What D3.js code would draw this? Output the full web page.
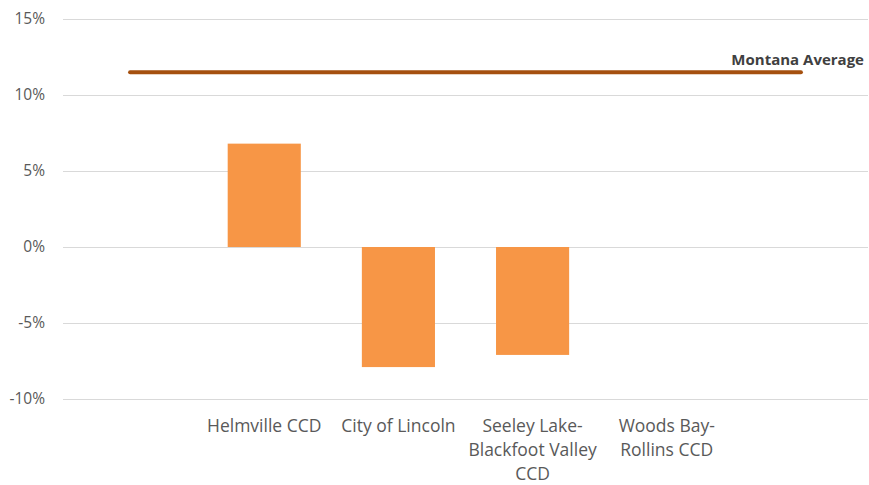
<!DOCTYPE html>
<html>
<head>
<meta charset="utf-8">
<script src="https://cdn.jsdelivr.net/npm/d3@7"></script>
<style>
  html, body { margin: 0; padding: 0; background: #fff; }
  text { font-family: "Open Sans", "Liberation Sans", sans-serif; }
</style>
</head>
<body>
<div id="chart"></div>
<script>
// Chart data
const categories = ["", "Helmville CCD", "City of Lincoln", "Seeley Lake-\nBlackfoot Valley\nCCD", "Woods Bay-\nRollins CCD", ""];
const changeValues = [null, 0.068, -0.079, -0.071, 0, null];
const montanaAverage = [0.115, 0.115, 0.115, 0.115, 0.115, 0.115];
const yTicks = [-0.10, -0.05, 0, 0.05, 0.10, 0.15];

const width = 869;
const height = 485;
const margin = { top: 19, right: 1, bottom: 86, left: 63 };

const svg = d3.select('#chart')
    .append('svg')
    .attr('width', width)
    .attr('height', height);

const x = d3.scaleBand()
    .domain(d3.range(categories.length))
    .range([margin.left, width - margin.right])
    .paddingInner(0.455)
    .paddingOuter(0.2275);

const y = d3.scaleLinear()
    .domain([-0.10, 0.15])
    .range([height - margin.bottom, margin.top]);

// Gridlines
svg.append('g')
    .selectAll('line')
    .data(yTicks)
    .join('line')
    .attr('x1', margin.left)
    .attr('x2', width - margin.right)
    .attr('y1', d => Math.round(y(d)) + 0.5)
    .attr('y2', d => Math.round(y(d)) + 0.5)
    .attr('stroke', '#d9d9d9')
    .attr('stroke-width', 1);

// Y axis labels (plain hyphen for negatives, like Excel)
const pct = d3.format('.0%');
const yAxis = d3.axisLeft(y)
    .tickValues(yTicks)
    .tickFormat(d => pct(d).replace('\u2212', '-'))
    .tickSize(0)
    .tickPadding(18);

svg.append('g')
    .attr('transform', `translate(${margin.left},0)`)
    .call(yAxis)
    .call(g => g.select('.domain').remove())
    .call(g => g.selectAll('text')
        .attr('fill', '#595959')
        .style('font-size', '15.5px'));

// Bars
svg.append('g')
    .selectAll('rect')
    .data(changeValues.map((v, i) => ({ v, i })).filter(d => d.v !== null))
    .join('rect')
    .attr('x', d => x(d.i))
    .attr('width', x.bandwidth())
    .attr('y', d => y(Math.max(0, d.v)))
    .attr('height', d => Math.abs(y(d.v) - y(0)))
    .attr('fill', '#f79646');

// Montana average line
const line = d3.line()
    .x((d, i) => x(i) + x.bandwidth() / 2)
    .y(d => y(d));

svg.append('path')
    .datum(montanaAverage)
    .attr('d', line)
    .attr('fill', 'none')
    .attr('stroke', '#a5500f')
    .attr('stroke-width', 4)
    .attr('stroke-linecap', 'round');

svg.append('text')
    .attr('x', 864)
    .attr('y', 65)
    .attr('text-anchor', 'end')
    .attr('fill', '#404040')
    .style('font-size', '15px')
    .style('font-weight', 'bold')
    .text('Montana Average');

// Category labels
const labels = svg.append('g')
    .selectAll('text')
    .data(categories)
    .join('text')
    .attr('text-anchor', 'middle')
    .attr('fill', '#595959')
    .style('font-size', '17.5px')
    .attr('transform', (d, i) => `translate(${x(i) + x.bandwidth() / 2},432)`);

labels.selectAll('tspan')
    .data(d => d.split('\n'))
    .join('tspan')
    .attr('x', 0)
    .attr('y', (d, i) => i * 24)
    .text(d => d);
</script>
</body>
</html>
